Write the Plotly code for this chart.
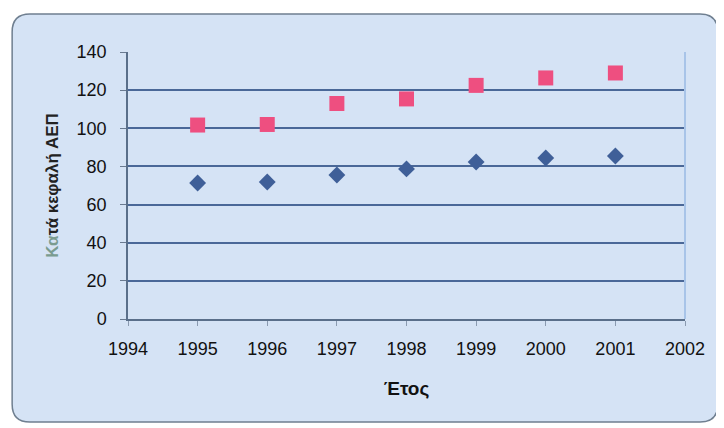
import plotly.graph_objects as go

years = [1995, 1996, 1997, 1998, 1999, 2000, 2001]
series_pink = [101.7, 102.0, 113.0, 115.4, 122.5, 126.4, 129.0]
series_blue = [71.3, 71.8, 75.5, 78.7, 82.3, 84.4, 85.5]
x_ticks = [1994, 1995, 1996, 1997, 1998, 1999, 2000, 2001, 2002]
y_ticks = [0, 20, 40, 60, 80, 100, 120, 140]

fig = go.Figure()
fig.add_trace(go.Scatter(x=years, y=series_blue, mode="markers", name="Σειρά1",
                         marker=dict(symbol="diamond", size=13, color="#3f5f98")))
fig.add_trace(go.Scatter(x=years, y=series_pink, mode="markers", name="Σειρά2",
                         marker=dict(symbol="square", size=15, color="#ee4f80")))

fig.add_shape(type="path", xref="paper", yref="paper", layer="below",
              path="M -0.176,1.142 L 1.027,1.142 Q 1.059,1.142 1.059,1.075 L 1.059,-0.319 "
                   "Q 1.059,-0.386 1.027,-0.386 L -0.176,-0.386 Q -0.208,-0.386 -0.208,-0.319 "
                   "L -0.208,1.075 Q -0.208,1.142 -0.176,1.142 Z",
              fillcolor="#d5e3f5", line=dict(color="#6f7f90", width=1.5))
fig.add_shape(type="line", xref="paper", yref="paper", x0=1, x1=1, y0=0, y1=1,
              line=dict(color="#a8c4e8", width=2))

fig.update_layout(
    width=712, height=416,
    margin=dict(l=120, r=35, t=44, b=105),
    paper_bgcolor="white",
    plot_bgcolor="#8fb5ea",
    showlegend=False,
    font=dict(family="Liberation Sans, Arial, sans-serif", size=18, color="#111111"),
    xaxis=dict(range=[1994, 2002], tickvals=x_ticks, ticktext=[str(v) for v in x_ticks],
               showgrid=False, zeroline=False, showline=True, linecolor="#5a6f8a", linewidth=1.5,
               ticks="outside", ticklen=5, tickcolor="#8a9ab0", ticklabelstandoff=8,
               title=dict(text="<b>Έτος</b>", font=dict(size=19), standoff=23)),
    yaxis=dict(range=[0, 140], tickvals=y_ticks, showgrid=True, gridcolor="#4a6898", gridwidth=1.7,
               zeroline=False, showline=True, linecolor="#5a6f8a", linewidth=1.5,
               ticks="outside", ticklen=6, tickcolor="#6a7a90", ticklabelstandoff=10,
               title=dict(text="<b><span style='color:#7a9c90'>Κα</span>τά κεφαλή ΑΕΠ</b>",
                          font=dict(size=17, color="#222222"), standoff=14)),
)

fig.write_html("out.html")
